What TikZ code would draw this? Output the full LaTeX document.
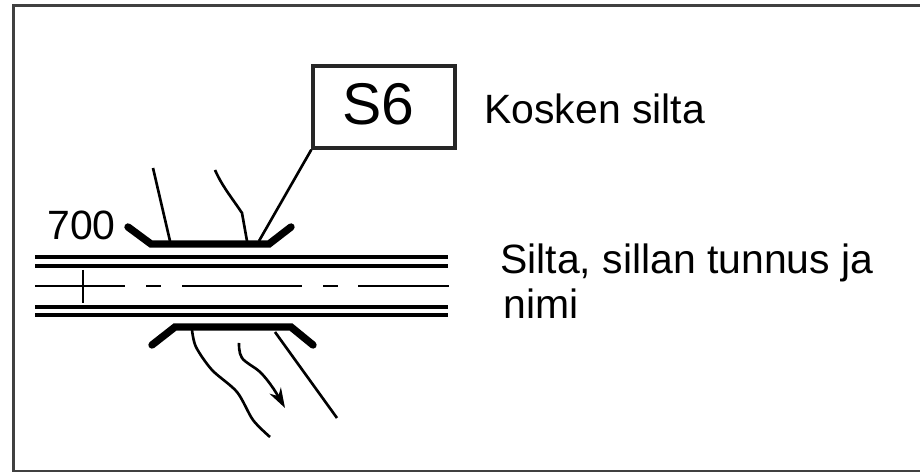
\documentclass[tikz,border=0pt]{standalone}
\usepackage{fontspec}
\usetikzlibrary{arrows.meta}
\setmainfont{Liberation Sans}
\tikzset{
    reuna/.style={line width=1.3pt, color=black!75},
    laatikko/.style={line width=1.9pt, color=black!85},
    tieviiva/.style={line width=1.8pt},
    keskiviiva/.style={line width=1.5pt},
    kaide/.style={line width=4.2pt, line cap=round, line join=miter},
    uoma/.style={line width=1.5pt},
    selite/.style={font=\fontsize{23.3}{23.3}\selectfont, inner sep=0pt, anchor=base west}
}
\begin{document}
\begin{tikzpicture}[x=0.02cm, y=-0.02cm]
    \useasboundingbox (0, 0) rectangle (920, 472);
    \draw[reuna] (920, 5.5) -- (13.5, 5.5) -- (13.5, 471) -- (920, 471);
    \draw[tieviiva] (35, 257) -- (448, 257);
    \draw[tieviiva] (35, 266) -- (448, 266);
    \draw[tieviiva] (35, 307) -- (448, 307);
    \draw[tieviiva] (35, 315) -- (448, 315);
    \draw[keskiviiva] (35, 286) -- (125, 286);
    \draw[keskiviiva] (146, 286) -- (161, 286);
    \draw[keskiviiva] (182, 286) -- (302, 286);
    \draw[keskiviiva] (323, 286) -- (338, 286);
    \draw[keskiviiva] (358, 286) -- (449, 286);
    \draw[keskiviiva] (83, 270) -- (83, 303);
    \draw[kaide] (128, 227) -- (151, 244) -- (269, 244) -- (291, 227);
    \draw[kaide] (152, 345) -- (175, 327) -- (291, 327) -- (313, 345);
    \draw[uoma] (153, 168) -- (170, 241);
    \draw[uoma] (215, 170) .. controls (222, 186) and (232, 198) .. (242, 213) -- (247, 241);
    \draw[uoma] plot[smooth, tension=0.5] coordinates {(192, 330) (196, 347) (212, 370) (237, 392) (253, 420) (270, 437)};
    \draw[uoma] (275, 332) -- (337, 418);
    \draw[uoma, -{Stealth[length=0.4cm, width=0.26cm]}] plot[smooth, tension=0.6] coordinates {(239, 343) (242, 358) (260, 372) (273, 388) (285, 408)};
    \node[draw, laatikko, minimum width=142*0.02cm, minimum height=82*0.02cm, inner sep=0pt, text depth=0.12cm, font=\fontsize{33.5}{33.5}\selectfont, text=black] (tunnus) at (384, 107) {S6\hspace{0.24cm}\mbox{}};
    \coordinate (kansi) at (259, 241);
    \draw[uoma] (tunnus.south west) -- (kansi);
    \node[selite] (nimi) at (484, 124) {Kosken silta};
    \node[selite] (paalu) at (47, 240) {700};
    \node[selite] (silta) at (500, 274) {Silta, sillan tunnus ja};
    \node[selite] (rivi) at (503, 319) {nimi};
\end{tikzpicture}
\end{document}
